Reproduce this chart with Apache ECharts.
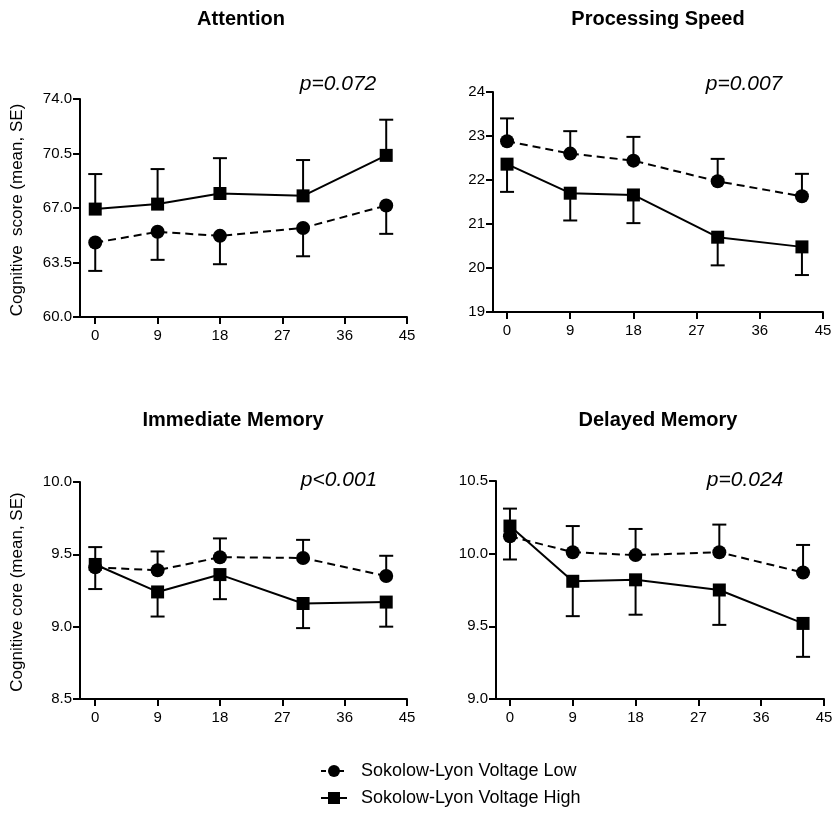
<!DOCTYPE html>
<html><head><meta charset="utf-8">
<script src="https://cdn.jsdelivr.net/npm/echarts@6/dist/echarts.min.js"></script>
<style>html,body{margin:0;padding:0;background:#fff}#c{width:834px;height:815px}</style>
</head><body><div id="c"></div>
<script>
// ---------- data ----------
const timePoints = [0, 9, 18, 30, 42];
const xTicks = [0, 9, 18, 27, 36, 45];
const lowName = 'Sokolow-Lyon Voltage Low';
const highName = 'Sokolow-Lyon Voltage High';

const panelTitles = ['Attention', 'Processing Speed', 'Immediate Memory', 'Delayed Memory'];
const pValues = ['p=0.072', 'p=0.007', 'p<0.001', 'p=0.024'];
const yAxisNames = ['Cognitive  score (mean, SE)', '', 'Cognitive core (mean, SE)', ''];

// Attention
const attentionYTicks = [60, 63.5, 67, 70.5, 74];
const attentionLowMean = [64.78, 65.47, 65.21, 65.72, 67.16];
const attentionLowBar = [62.96, 63.67, 63.39, 63.90, 65.34];
const attentionHighMean = [66.93, 67.25, 67.93, 67.78, 70.38];
const attentionHighBar = [69.18, 69.50, 70.20, 70.08, 72.67];

// Processing speed
const speedYTicks = [19, 20, 21, 22, 23, 24];
const speedLowMean = [22.88, 22.60, 22.44, 21.97, 21.63];
const speedLowBar = [23.40, 23.11, 22.98, 22.48, 22.14];
const speedHighMean = [22.36, 21.70, 21.66, 20.70, 20.48];
const speedHighBar = [21.73, 21.08, 21.02, 20.06, 19.84];

// Immediate memory
const immediateYTicks = [8.5, 9.0, 9.5, 10.0];
const immediateLowMean = [9.41, 9.39, 9.48, 9.475, 9.35];
const immediateLowBar = [9.55, 9.52, 9.61, 9.60, 9.49];
const immediateHighMean = [9.43, 9.24, 9.36, 9.16, 9.17];
const immediateHighBar = [9.26, 9.07, 9.19, 8.99, 9.00];

// Delayed memory
const delayedYTicks = [9.0, 9.5, 10.0, 10.5];
const delayedLowMean = [10.12, 10.01, 9.99, 10.01, 9.87];
const delayedLowBar = [10.31, 10.19, 10.17, 10.20, 10.06];
const delayedHighMean = [10.19, 9.81, 9.82, 9.75, 9.52];
const delayedHighBar = [9.96, 9.57, 9.58, 9.51, 9.29];

// ---------- layout ----------
const FONT = '"Liberation Sans", Arial, Helvetica, sans-serif';
const panels = [
  {grid:{left:80, top:99, width:327, height:218}, xMin:-2.2, yTicks:attentionYTicks, dec:1,
   low:attentionLowMean, lowBar:attentionLowBar, high:attentionHighMean, highBar:attentionHighBar,
   title:[241, 19], p:[338, 84], yname:[17, 210]},
  {grid:{left:493, top:92, width:330, height:220}, xMin:-2.0, yTicks:speedYTicks, dec:0,
   low:speedLowMean, lowBar:speedLowBar, high:speedHighMean, highBar:speedHighBar,
   title:[658, 19], p:[744, 84], yname:null},
  {grid:{left:80, top:482, width:327, height:217}, xMin:-2.2, yTicks:immediateYTicks, dec:1,
   low:immediateLowMean, lowBar:immediateLowBar, high:immediateHighMean, highBar:immediateHighBar,
   title:[233, 420], p:[339, 480], yname:[17, 592]},
  {grid:{left:496, top:481, width:328, height:218}, xMin:-2.0, yTicks:delayedYTicks, dec:1,
   low:delayedLowMean, lowBar:delayedLowBar, high:delayedHighMean, highBar:delayedHighBar,
   title:[658, 420], p:[745, 480], yname:null}
];

function errRender(params, api) {
  const x = api.value(0), m = api.value(1), e = api.value(2);
  const p0 = api.coord([x, m]);
  const p1 = api.coord([x, e]);
  const hw = 7;
  return {type:'group', children:[
    {type:'line', shape:{x1:p0[0], y1:p0[1], x2:p1[0], y2:p1[1]}, style:{stroke:'#000', lineWidth:2}},
    {type:'line', shape:{x1:p1[0]-hw, y1:p1[1], x2:p1[0]+hw, y2:p1[1]}, style:{stroke:'#000', lineWidth:2}}
  ]};
}

const grids = [], xAxes = [], yAxes = [], series = [], graphics = [];
panels.forEach((pn, i) => {
  grids.push(Object.assign({containLabel:false, outerBoundsMode:'none'}, pn.grid));
  xAxes.push({
    gridIndex:i, type:'value', min:pn.xMin, max:45,
    axisLine:{show:true, onZero:false, lineStyle:{color:'#000', width:2}},
    axisTick:{show:true, length:7, customValues:xTicks, lineStyle:{color:'#000', width:2}},
    axisLabel:{customValues:xTicks, color:'#000', fontSize:15, fontFamily:FONT, margin:11},
    splitLine:{show:false}
  });
  const yt = pn.yTicks;
  yAxes.push({
    gridIndex:i, type:'value', min:yt[0], max:yt[yt.length-1],
    axisLine:{show:true, onZero:false, lineStyle:{color:'#000', width:2}},
    axisTick:{show:true, length:7, customValues:yt, lineStyle:{color:'#000', width:2}},
    axisLabel:{customValues:yt, color:'#000', fontSize:15, fontFamily:FONT, margin:8,
      formatter:(v)=>Number(v).toFixed(pn.dec)},
    splitLine:{show:false}
  });
  const mk = (xs, a, b) => xs.map((x, k) => [x, a[k], b[k]]);
  series.push({type:'custom', name:lowName+' err', xAxisIndex:i, yAxisIndex:i, z:1,
    renderItem:errRender, encode:{x:0, y:1}, data:mk(timePoints, pn.low, pn.lowBar), silent:true});
  series.push({type:'custom', name:highName+' err', xAxisIndex:i, yAxisIndex:i, z:1,
    renderItem:errRender, encode:{x:0, y:1}, data:mk(timePoints, pn.high, pn.highBar), silent:true});
  series.push({type:'line', name:lowName, xAxisIndex:i, yAxisIndex:i, z:3,
    data:timePoints.map((x,k)=>[x, pn.low[k]]),
    symbol:'circle', symbolSize:14, itemStyle:{color:'#000'},
    lineStyle:{color:'#000', width:2, type:[8,5]}, silent:true});
  series.push({type:'line', name:highName, xAxisIndex:i, yAxisIndex:i, z:4,
    data:timePoints.map((x,k)=>[x, pn.high[k]]),
    symbol:'rect', symbolSize:13, itemStyle:{color:'#000'},
    lineStyle:{color:'#000', width:2, type:'solid'}, silent:true});

  graphics.push({type:'text', x:pn.title[0], y:pn.title[1],
    style:{text:panelTitles[i], font:'bold 20px '+FONT, fill:'#000', align:'center', verticalAlign:'middle'}});
  graphics.push({type:'text', x:pn.p[0], y:pn.p[1],
    style:{text:pValues[i], font:'italic 21px '+FONT, fill:'#000', align:'center', verticalAlign:'middle'}});
  if (pn.yname) {
    graphics.push({type:'text', x:pn.yname[0], y:pn.yname[1], rotation:Math.PI/2,
      style:{text:yAxisNames[i], font:'17px '+FONT, fill:'#000', align:'center', verticalAlign:'middle'}});
  }
});

const legendBase = {orient:'vertical', left:320, itemWidth:26, itemHeight:15, padding:0,
  selectedMode:false, textStyle:{fontSize:18, color:'#000', fontFamily:FONT, padding:[0,0,0,9]}};

const chart = echarts.init(document.getElementById('c'), null, {renderer:'canvas'});
chart.setOption({
  animation:false,
  backgroundColor:'#fff',
  grid:grids, xAxis:xAxes, yAxis:yAxes, series:series, graphic:graphics,
  legend:[
    Object.assign({}, legendBase, {top:762, data:[lowName], lineStyle:{type:[5,4], width:2, color:'#000'}}),
    Object.assign({}, legendBase, {top:789, data:[highName], lineStyle:{type:'solid', width:2, color:'#000'}})
  ]
});
</script>
</body></html>
